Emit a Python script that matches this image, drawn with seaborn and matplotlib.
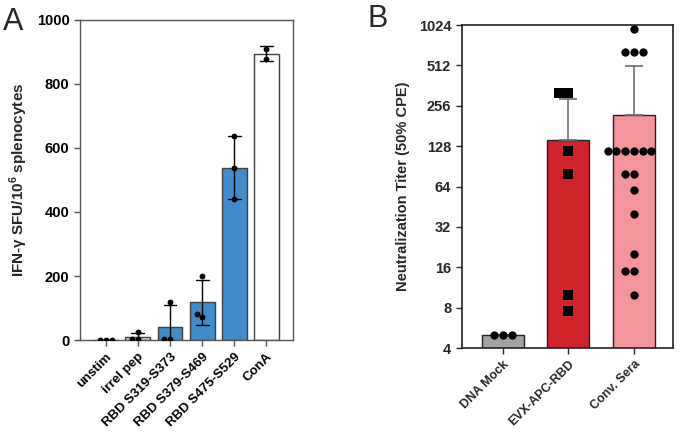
import numpy as np
import pandas as pd
import matplotlib
matplotlib.use('Agg')
import matplotlib.pyplot as plt
import seaborn as sns

sns.set_style('ticks')
plt.rcParams['font.family'] = ['Liberation Sans', 'DejaVu Sans']
plt.rcParams['mathtext.fontset'] = 'custom'
plt.rcParams['mathtext.rm'] = 'Liberation Sans:bold'
plt.rcParams['mathtext.bf'] = 'Liberation Sans:bold'

# Panel A: ELISpot
a_groups = ['unstim', 'irrel pep', 'RBD S319-S373', 'RBD S379-S469', 'RBD S475-S529', 'ConA']
a_values = [[0, 0, 0], [24, 2, 2], [120, 3, 3], [200, 82, 72], [638, 537, 440], [910, 877]]
a_colors = ['#D9D9D9', '#D9D9D9', '#3F8BCC', '#3F8BCC', '#3F8BCC', '#FFFFFF']

# Panel B: neutralization titers
b_groups = ['DNA Mock', 'EVX-APC-RBD', 'Conv. Sera']
b_values = [
    [5, 5, 5],
    [320, 320, 118, 80, 10, 7.5],
    [960, 640, 640, 640, 118, 118, 118, 118, 118, 118, 80, 80, 60, 40, 20, 15, 15, 10],
]
b_colors = ['#A3A3A3', '#D1232A', '#F4959B']
b_ticks = [4, 8, 16, 32, 64, 128, 256, 512, 1024]

a_df = pd.DataFrame([(g, v) for g, vals in zip(a_groups, a_values) for v in vals], columns=['group', 'value'])
b_df = pd.DataFrame([(g, v) for g, vals in zip(b_groups, b_values) for v in vals], columns=['group', 'value'])

fig = plt.figure(figsize=(6.8, 4.4), dpi=100)
ax1 = fig.add_axes([0.1176, 0.227, 0.313, 0.728])
ax2 = fig.add_axes([0.679, 0.209, 0.311, 0.734])

# ---- A ----
sns.barplot(data=a_df, x='group', y='value', order=a_groups, hue='group', hue_order=a_groups,
            palette=dict(zip(a_groups, a_colors)), legend=False, errorbar='sd', capsize=0.4,
            width=0.77, saturation=1, edgecolor='#404040', linewidth=1.0,
            err_kws={'color': 'black', 'linewidth': 1.0}, ax=ax1)
sns.swarmplot(data=a_df, x='group', y='value', order=a_groups, color='black', size=4.2, ax=ax1)
ax1.set_ylim(0, 1000)
ax1.set_xlim(-0.8, 5.82)
ax1.set_yticks([0, 200, 400, 600, 800, 1000])
ax1.set_xlabel('')
ax1.set_ylabel('IFN-γ SFU/10$^{6}$ splenocytes', fontsize=11, fontweight='bold', labelpad=5)
ax1.set_xticks(range(len(a_groups)))
ax1.set_xticklabels(a_groups, rotation=45, ha='right', rotation_mode='anchor', fontsize=9.5, fontweight='bold')
for lab in ax1.get_yticklabels():
    lab.set_fontweight('bold')
    lab.set_fontsize(10.5)
for s in ax1.spines.values():
    s.set_color('#555555')
    s.set_linewidth(1.0)
ax1.tick_params(colors='#555555', labelcolor='black', length=4, width=1.0)

# ---- B ----
b_sum = b_df.groupby('group', sort=False)['value'].agg(['mean', 'std']).reindex(b_groups).fillna(0).reset_index()
ax2.set_yscale('log', base=2)
sns.barplot(data=b_sum, x='group', y='mean', order=b_groups, hue='group', hue_order=b_groups,
            palette=dict(zip(b_groups, b_colors)), legend=False, errorbar=None, saturation=1,
            width=0.64, edgecolor='#222222', linewidth=1.0, ax=ax2)
ax2.errorbar(x=np.arange(len(b_groups)), y=b_sum['mean'], yerr=[np.zeros(len(b_groups)), b_sum['std']],
             fmt='none', ecolor='#6E6E6E', elinewidth=1.2, capsize=6.5, capthick=1.2, zorder=3)
sq = b_df[b_df['group'] == 'EVX-APC-RBD']
ci = b_df[b_df['group'] != 'EVX-APC-RBD']
sns.swarmplot(data=ci, x='group', y='value', order=b_groups, color='black', size=6, ax=ax2, zorder=4)
sns.swarmplot(data=sq, x='group', y='value', order=b_groups, color='black', marker='s', size=6.5, ax=ax2, zorder=4)
ax2.set_ylim(4, 1024)
ax2.set_xlim(-0.63, 2.6)
ax2.set_yticks(b_ticks)
ax2.set_yticklabels([str(t) for t in b_ticks], fontsize=10.5, fontweight='bold')
ax2.yaxis.set_minor_locator(matplotlib.ticker.NullLocator())
ax2.set_xlabel('')
ax2.set_ylabel('Neutralization Titer (50% CPE)', fontsize=10.5, fontweight='bold', labelpad=6)
ax2.set_xticks(range(len(b_groups)))
ax2.set_xticklabels(b_groups, rotation=45, ha='right', rotation_mode='anchor', fontsize=9, fontweight='bold')
for s in ax2.spines.values():
    s.set_color('#222222')
    s.set_linewidth(1.2)
ax2.tick_params(length=4, width=1.0)

fig.text(0.004, 0.985, 'A', fontsize=22, va='top', ha='left')
fig.text(0.540, 0.99, 'B', fontsize=22, va='top', ha='left')

fig.savefig('out.png', dpi=100)
